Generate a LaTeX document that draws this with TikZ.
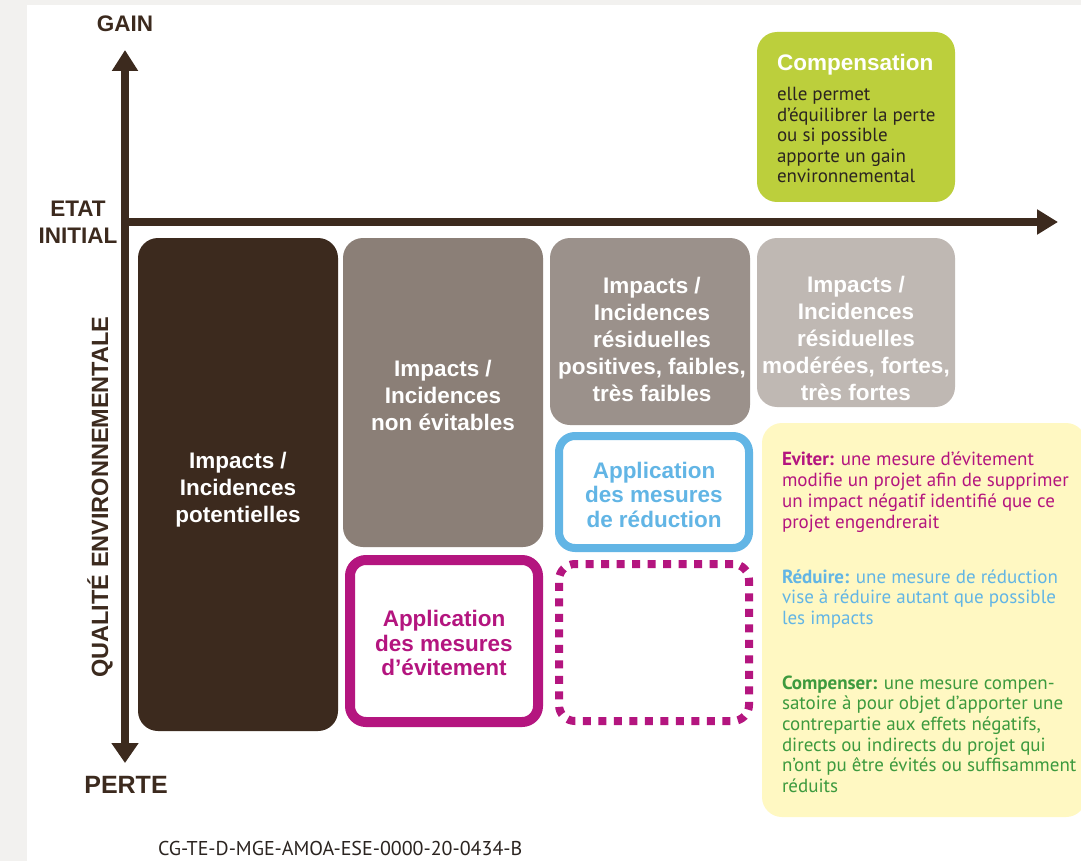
\documentclass[tikz,border=0pt]{standalone}
\usepackage{fontspec}
\setmainfont{Liberation Sans}
\newfontfamily\myriad{PT Sans}
\usetikzlibrary{arrows.meta}
\definecolor{brun}{HTML}{3C2A1E}
\definecolor{fond}{HTML}{F2F1EF}
\definecolor{grisA}{HTML}{8B7F77}
\definecolor{grisB}{HTML}{9B918B}
\definecolor{grisC}{HTML}{BFB8B3}
\definecolor{vert}{HTML}{BCCF3C}
\definecolor{jaune}{HTML}{FFF8C2}
\definecolor{magenta}{HTML}{B4157F}
\definecolor{bleu}{HTML}{62B5E5}
\definecolor{vertfonce}{HTML}{3D9A3E}
\definecolor{encre}{HTML}{2B2420}
\begin{document}
\begin{tikzpicture}[x=1pt, y=-1pt, every node/.style = {inner sep=0pt, outer sep=0pt, align=center},
          bloc/.style={rounded corners=20pt, minimum width=200pt},
          cadre/.style={rounded corners=16pt, line width=8pt, fill=white},
          titre/.style={font=\fontsize{22.5}{27}\selectfont\bfseries, text=white},
          appli/.style={font=\fontsize{22.5}{24.5}\selectfont\bfseries},
          corps/.style={font=\myriad\fontsize{19}{20.7}\selectfont, align=left, anchor=base west},
          axe/.style={brun, line width=8pt}]
          \useasboundingbox (0,0) rectangle (1081,861);
          \fill[fond] (0,0) rectangle (1081,861);
          \fill[white] (27,5) rectangle (1081,861);
          \coordinate (gain) at (125,50);
          \coordinate (perte) at (125,763);
          \coordinate (origine) at (121,222);
          \coordinate (fin) at (1058,222);
          \draw[axe, {Triangle[length=21pt, width=25pt]}-{Triangle[length=20pt, width=26pt]}] (gain) -- (perte);
          \draw[axe, -{Triangle[length=21pt, width=24pt]}] (origine) -- (fin);
          \node[brun, font=\fontsize{22.5}{27}\selectfont\bfseries, anchor=base] (lgain) at (125,32) {GAIN};
          \node[brun, font=\fontsize{22.5}{27}\selectfont\bfseries] (letat) at (78,222) {ETAT\\INITIAL};
          \node[brun, font=\fontsize{25}{27}\selectfont\bfseries, anchor=base] (lperte) at (126,793) {PERTE};
          \node[brun, font=\fontsize{23.5}{27}\selectfont\bfseries, rotate=90] (qualite) at (100,497) {QUALITÉ ENVIRONNEMENTALE};
          \node[bloc, fill=brun, minimum height=493pt] (potentiel) at (238,484.5) {};
          \node[bloc, fill=grisA, minimum height=309pt] (nonevitable) at (443,392.5) {};
          \node[bloc, fill=grisB, minimum height=187pt] (faibles) at (650,331.5) {};
          \node[bloc, fill=grisC, minimum width=198pt, minimum height=169pt] (fortes) at (856,322.5) {};
          \node[bloc, fill=vert, minimum width=198pt, minimum height=170pt] (compensation) at (856,117) {};
          \node[bloc, fill=jaune, minimum width=324pt, minimum height=394pt] (legende) at (924,620) {};
          \node[cadre, draw=bleu, minimum width=190pt, minimum height=112pt] (reduction) at (654,492) {};
          \node[cadre, draw=magenta, line width=10pt, minimum width=188pt, minimum height=162pt] (evitement) at (444,641) {};
          \node[cadre, draw=magenta, dash pattern=on 8pt off 7.5pt, minimum width=190pt, minimum height=157pt] (vide) at (654,642.5) {};
          \node[titre] (tpotentiel) at (238,490) {Impacts /\\Incidences\\potentielles};
          \node[titre] (tnonevitable) at (443,395) {Impacts /\\Incidences\\non évitables};
          \node[titre] (tfaibles) at (652,339) {Impacts /\\Incidences\\résiduelles\\positives, faibles,\\très faibles};
          \node[titre] (tfortes) at (856,338) {Impacts /\\Incidences\\résiduelles\\modérées, fortes,\\très fortes};
          \node[appli, text=bleu] (treduction) at (654,494.5) {Application\\des mesures\\de réduction};
          \node[appli, text=magenta] (tevitement) at (444,643) {Application\\des mesures\\d’évitement};
          \node[titre, anchor=base west] (tcompensation) at (777,71) {Compensation};
          \node[corps, text=encre, font=\myriad\fontsize{19}{20.5}\selectfont] (gainenv) at (777,183) {elle permet\\d’équilibrer la perte\\ou si possible\\apporte un gain\\environnemental};
          \node[corps, text=magenta] (deviter) at (782,528) {\textbf{Eviter:} une mesure d’évitement\\modifie un projet afin de supprimer\\un impact négatif identifié que ce\\projet engendrerait};
          \node[corps, text=bleu] (dreduire) at (782,624.5) {\textbf{Réduire:} une mesure de réduction\\vise à réduire autant que possible\\les impacts};
          \node[corps, text=vertfonce] (dcompenser) at (782,792.5) {\textbf{Compenser:} une mesure compen-\\satoire à pour objet d’apporter une\\contrepartie aux effets négatifs,\\directs ou indirects du projet qui\\n’ont pu être évités ou suffisamment\\réduits};
          \node[font=\myriad\fontsize{20}{20}\selectfont, text=encre, anchor=base west] (refdoc) at (158,855) {CG-TE-D-MGE-AMOA-ESE-0000-20-0434-B};
\end{tikzpicture}
\end{document}
